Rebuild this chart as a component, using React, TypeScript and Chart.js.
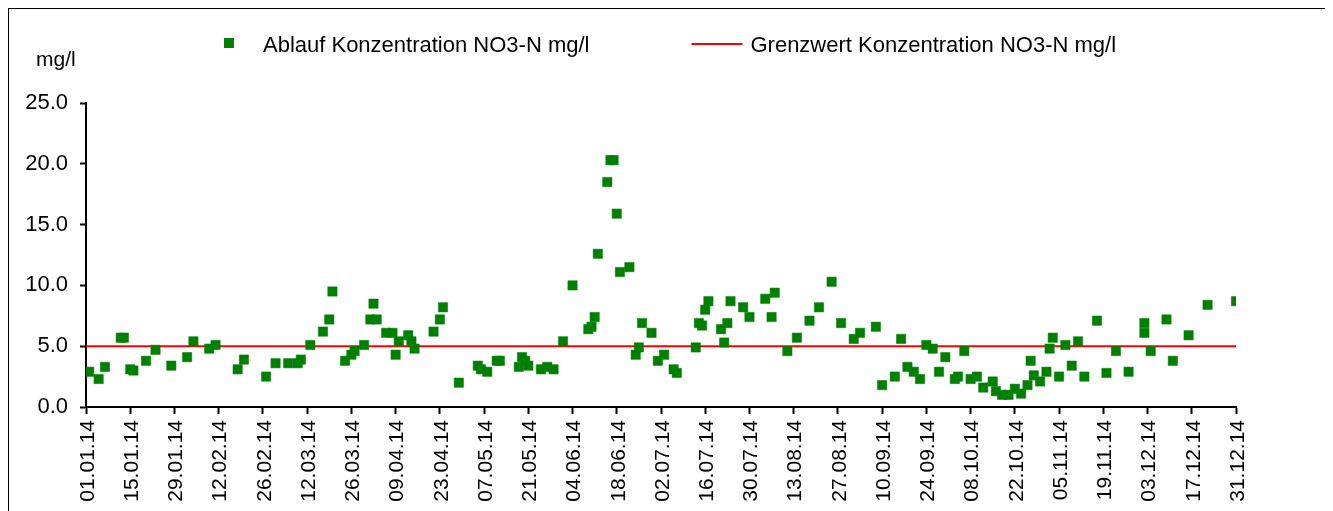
import React, { useEffect, useRef } from "react";
import { Chart, registerables } from "chart.js";

Chart.register(...registerables);

// Day of year (0 = 01.01.14) of each measurement
const sampleDays: number[] = [
  1, 4, 6, 11, 12, 14, 15, 19, 22, 27, 32, 34, 39, 41, 48, 50, 57, 60, 64, 67,
  68, 71, 75, 77, 78, 82, 84, 85, 88, 90, 91, 92, 95, 97, 98, 99, 102, 103, 104, 110,
  112, 113, 118, 124, 125, 127, 130, 131, 137, 138, 139, 140, 144, 146, 148, 151, 154, 159, 160, 161,
  162, 165, 166, 167, 168, 169, 172, 174, 175, 176, 179, 181, 183, 186, 187, 193, 194, 195, 196, 197,
  201, 202, 203, 204, 208, 210, 215, 217, 218, 222, 225, 229, 232, 236, 239, 243, 245, 250, 252, 256,
  258, 260, 262, 264, 266, 268, 270, 272, 275, 276, 278, 280, 282, 284, 287, 288, 290, 292, 294, 296,
  298, 299, 300, 302, 304, 305, 306, 308, 310, 312, 314, 316, 320, 323, 326, 330, 335, 335, 337, 342,
  344, 349, 355, 364,
];

// Ablauf Konzentration NO3-N (mg/l)
const ablaufValues: number[] = [
  2.9, 2.3, 3.3, 5.7, 5.7, 3.1, 3.0, 3.8, 4.7, 3.4, 4.1, 5.4, 4.8, 5.1, 3.1, 3.9, 2.5, 3.6, 3.6, 3.6,
  3.9, 5.1, 6.2, 7.2, 9.5, 3.8, 4.3, 4.6, 5.1, 7.2, 8.5, 7.2, 6.1, 6.1, 4.3, 5.4, 5.9, 5.4, 4.8, 6.2,
  7.2, 8.2, 2.0, 3.4, 3.1, 2.9, 3.8, 3.8, 3.3, 4.1, 3.8, 3.4, 3.1, 3.3, 3.1, 5.4, 10.0, 6.4, 6.6, 7.4,
  12.6, 18.5, 20.3, 20.3, 15.9, 11.1, 11.5, 4.3, 4.9, 6.9, 6.1, 3.8, 4.3, 3.1, 2.8, 4.9, 6.9, 6.7, 8.0, 8.7,
  6.4, 5.3, 6.9, 8.7, 8.2, 7.4, 8.9, 7.4, 9.4, 4.6, 5.7, 7.1, 8.2, 10.3, 6.9, 5.6, 6.1, 6.6, 1.8, 2.5,
  5.6, 3.3, 2.9, 2.3, 5.1, 4.8, 2.9, 4.1, 2.3, 2.5, 4.6, 2.3, 2.5, 1.6, 2.1, 1.3, 1.0, 1.0, 1.5, 1.1,
  1.8, 3.8, 2.6, 2.1, 2.9, 4.8, 5.7, 2.5, 5.1, 3.4, 5.4, 2.5, 7.1, 2.8, 4.6, 2.9, 6.9, 6.1, 4.6, 7.2,
  3.8, 5.9, 8.4, 8.7,
];

// Grenzwert (limit) line
const grenzwertDays: number[] = [0, 364];
const grenzwertValues: number[] = [5.0, 5.0];

const xTickLabels: string[] = [
  "01.01.14", "15.01.14", "29.01.14", "12.02.14", "26.02.14", "12.03.14", "26.03.14",
  "09.04.14", "23.04.14", "07.05.14", "21.05.14", "04.06.14", "18.06.14", "02.07.14",
  "16.07.14", "30.07.14", "13.08.14", "27.08.14", "10.09.14", "24.09.14", "08.10.14",
  "22.10.14", "05.11.14", "19.11.14", "03.12.14", "17.12.14", "31.12.14",
];

const seriesLabels: string[] = [
  "Ablauf Konzentration NO3-N mg/l",
  "Grenzwert Konzentration NO3-N mg/l",
];
const unitLabel = "mg/l";

const FONT = "Liberation Sans, Arial, sans-serif";
const GREEN = "#008000";
const RED = "#FF0000";

const legendPlugin = {
  id: "customLegend",
  afterDraw(chart: any) {
    const ctx = chart.ctx as CanvasRenderingContext2D;
    ctx.save();
    ctx.fillStyle = "#000";
    ctx.textBaseline = "alphabetic";
    ctx.textAlign = "left";
    // unit label
    ctx.font = `21px ${FONT}`;
    ctx.fillText(unitLabel, 27, 57);
    ctx.font = `22px ${FONT}`;
    const w1 = ctx.measureText(seriesLabels[0]).width;
    const w2 = ctx.measureText(seriesLabels[1]).width;
    const total = 10 + 29 + w1 + 102 + 51 + 8 + w2;
    let x = chart.width / 2 - total / 2;
    const cy = 34;
    ctx.fillStyle = GREEN;
    ctx.fillRect(x, cy - 5, 10, 10);
    x += 39;
    ctx.fillStyle = "#000";
    ctx.fillText(seriesLabels[0], x, 43);
    x += w1 + 102;
    ctx.strokeStyle = RED;
    ctx.lineWidth = 2;
    ctx.beginPath();
    ctx.moveTo(x, cy + 1);
    ctx.lineTo(x + 51, cy + 1);
    ctx.stroke();
    x += 59;
    ctx.fillText(seriesLabels[1], x, 43);
    ctx.restore();
  },
};

export default function App() {
  const ref = useRef<HTMLCanvasElement | null>(null);

  useEffect(() => {
    if (!ref.current) return;
    const chart = new Chart(ref.current, {
      type: "scatter",
      data: {
        datasets: [
          {
            label: seriesLabels[0],
            data: sampleDays.map((d, i) => ({ x: d, y: ablaufValues[i] })),
            pointStyle: "rect",
            pointRadius: 6.6,
            backgroundColor: GREEN,
            borderColor: "rgba(0,128,0,0.5)",
            borderWidth: 1,
            showLine: false,
            order: 1,
          },
          {
            label: seriesLabels[1],
            data: grenzwertDays.map((d, i) => ({ x: d, y: grenzwertValues[i] })),
            showLine: true,
            borderColor: RED,
            borderWidth: 2,
            pointRadius: 0,
            order: 2,
          },
        ],
      },
      options: {
        animation: false,
        responsive: false,
        devicePixelRatio: 1,
        layout: { padding: { top: 94, right: 95, bottom: 0, left: 0 } },
        plugins: {
          legend: { display: false },
          tooltip: { enabled: false },
        },
        scales: {
          x: {
            type: "linear",
            min: 0,
            max: 364,
            afterFit: (s: any) => {
              s.height = 104;
            },
            afterBuildTicks: (s: any) => {
              s.ticks = xTickLabels.map((_, i) => ({ value: i * 14 }));
            },
            ticks: {
              autoSkip: false,
              maxRotation: 90,
              minRotation: 90,
              padding: 6,
              labelOffset: 2,
              color: "#000",
              font: { family: FONT, size: 21 },
              callback: (_v: any, i: number) => xTickLabels[i],
            },
            grid: {
              drawOnChartArea: false,
              drawTicks: true,
              tickLength: 7,
              tickWidth: 2,
              tickColor: "#000",
            },
            border: { display: true, color: "#000", width: 2 },
          },
          y: {
            min: 0,
            max: 25,
            afterFit: (s: any) => {
              s.width = 77;
            },
            ticks: {
              stepSize: 5,
              padding: 12,
              color: "#000",
              font: { family: FONT, size: 22 },
              callback: (v: any) => Number(v).toFixed(1),
            },
            grid: {
              drawOnChartArea: false,
              drawTicks: true,
              tickLength: 6,
              tickWidth: 2,
              tickColor: "#000",
            },
            border: { display: true, color: "#000", width: 2 },
          },
        },
      },
      plugins: [legendPlugin],
    });
    return () => chart.destroy();
  }, []);

  return (
    <>
      <style>{"html,body{overflow:hidden}"}</style>
      <div
        style={{
          width: 1322,
          height: 502,
          borderTop: "1px solid #000",
          borderLeft: "1px solid #000",
          borderRight: "1px solid #000",
          background: "#fff",
        }}
      >
        <canvas
          ref={ref}
          width={1322}
          height={502}
          style={{ display: "block", width: 1322, height: 502 }}
        />
      </div>
    </>
  );
}
